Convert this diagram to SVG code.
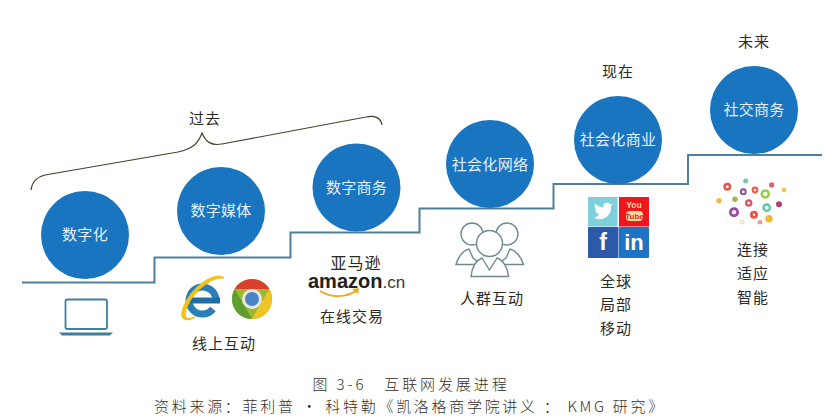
<svg xmlns="http://www.w3.org/2000/svg" width="838" height="418" viewBox="0 0 838 418">
<style>
text{font-family:"Noto Sans CJK SC","Noto Sans",sans-serif;text-anchor:middle;dominant-baseline:central}
.c{fill:#1a75c0}
.w{fill:#e4f1fa;font-size:15px;letter-spacing:.3px}
.l{fill:#2c2a24;font-size:15px;letter-spacing:1px}
.cap{fill:#33302a;font-size:15px;font-weight:300;letter-spacing:2.900px}
.ic{fill:#fff;stroke:#6f8a94;stroke-width:1.400}
.logo{font-family:"Liberation Sans",sans-serif;dominant-baseline:auto;text-anchor:start}
.s{font-family:"Liberation Sans",sans-serif;font-weight:700}
</style>
<rect width="838" height="418" fill="#fff"/>
<g id="connectors" fill="none">
<path d="M22 282.500H154.500V257.500H290.500V232.500H419.500V208.500H553.500V184H688V155H822" stroke="#4f8098" stroke-width="2"/>
<path d="M31 190C32 181 37 177 45 175L178 152C192 149 198 144 202 133C206 142 211 146 222 144L366 117C375 115 381 118 382 125" stroke="#4a3f2c" stroke-width="1.200"/>
</g>
<g id="node-digital"><circle class="c" cx="85" cy="235" r="44"/><text class="w" x="85" y="233.500">数字化</text></g>
<g id="node-media"><circle class="c" cx="221" cy="211" r="44"/><text class="w" x="221" y="209.500">数字媒体</text></g>
<g id="node-commerce"><circle class="c" cx="356.500" cy="187.500" r="44"/><text class="w" x="356.500" y="186">数字商务</text></g>
<g id="node-network"><circle class="c" cx="490" cy="164" r="44"/><text class="w" x="490" y="163">社会化网络</text></g>
<g id="node-social-biz"><circle class="c" cx="618" cy="140" r="44"/><text class="w" x="618" y="138.500">社会化商业</text></g>
<g id="node-social-trade"><circle class="c" cx="754" cy="110" r="44"/><text class="w" x="754" y="108.500">社交商务</text></g>
<g id="labels-time">
<text class="l" x="205" y="117.500">过去</text>
<text class="l" x="618" y="70.500">现在</text>
<text class="l" x="754" y="40.500">未来</text>
</g>
<g id="laptop">
<rect x="65.500" y="299.500" width="41.500" height="29.500" rx="2" fill="#fff" stroke="#3f7f9e" stroke-width="1.800"/>
<path d="M59 332.500H113L110 335.500H62Z" fill="#3f7f9e"/>
</g>
<g id="browser-icons">
<g id="ie">
<path d="M216 300A13.500 13.500 0 1 0 213 309" fill="none" stroke="#2b7fb8" stroke-width="7"/>
<path d="M190 297.500H220V303.500H190Z" fill="#1f6ea6"/>
<path d="M224 278C212 272 192 288 184 306C179 318 184 323 195 317C185 322 182 316 188 304C195 290 212 276 224 278Z" fill="#f2c21a" stroke="#f2c21a" stroke-width="1.500"/>
</g>
<g id="chrome">
<circle cx="252" cy="299" r="20" fill="#9db92c"/>
<path d="M234.700 289A20 20 0 0 1 269.300 289H252Z" fill="#d8402c"/>
<path d="M269.300 289A20 20 0 0 1 252 319L260 305Z" fill="#f0c424"/>
<path d="M252 319A20 20 0 0 1 234.700 289L244 305Z" fill="#5f9e2f"/>
<circle cx="252" cy="299" r="10" fill="#e8e8e0"/>
<circle cx="252" cy="299" r="7" fill="#4a84c4"/>
</g>
</g>
<g id="amazon">
<text class="l" x="356" y="262" style="font-size:16px;letter-spacing:1px">亚马逊</text>
<text class="logo" x="308" y="288" font-size="20" font-weight="700" fill="#23211c">amazon<tspan font-size="17" font-weight="400" fill="#3a3833">.cn</tspan></text>
<path d="M320 291C331 298 347 298 357 290" fill="none" stroke="#eda921" stroke-width="2"/>
<path d="M352 289L359 288L358 294Z" fill="#eda921"/>
</g>
<g id="people">
<circle class="ic" cx="472" cy="234" r="11"/>
<circle class="ic" cx="507" cy="234" r="11"/>
<path class="ic" d="M456 264.500C458 256 464 250 469 249L473 258L482 264.500Z"/>
<path class="ic" d="M523.500 264.500C521 256 515 250 510 249L506 258L497 264.500Z"/>
<path class="ic" d="M471 276.500C472 266 477 260 482 258L489.500 270L497 258C503 260 508 268 508.500 276.500Z"/>
<circle class="ic" cx="489.500" cy="243.500" r="13"/>
</g>
<g id="social-tiles">
<rect x="588" y="197" width="29.500" height="29.500" fill="#7fcfdc"/>
<path d="M594 218C604 222 612 215 611 206L613 204L610.500 204.500C608 201 602 203 603.500 207.500C600 207.500 597 205.500 595 203.500C594 206.500 595 209 597 210.500L595 210C595.500 212 597 213.500 599 214C597.500 216.500 596 217.500 594 218Z" fill="#fff"/>
<rect x="619" y="197" width="30" height="29.500" fill="#f0161d"/>
<text class="s" x="634" y="205" font-size="8.500" fill="#f7dc9e">You</text>
<rect x="626" y="211" width="17" height="10" rx="4" fill="#f7dc9e"/>
<text class="s" x="634.500" y="216" font-size="8" fill="#e8232a">Tube</text>
<rect x="588" y="227" width="30.500" height="31" rx="1" fill="#2c5aa8"/>
<text class="s" x="603" y="242" font-size="23" fill="#fff">f</text>
<rect x="619" y="227" width="30" height="31" rx="1" fill="#1f73c4"/>
<text class="s" x="634" y="242" font-size="22" fill="#fff">in</text>
</g>
<g id="app-dots" fill-opacity=".9">
<circle cx="727.300" cy="186.700" r="4" fill="#d8483a"/><circle cx="745.700" cy="181" r="2.500" fill="#6fbf9a"/><circle cx="771.700" cy="185" r="2.700" fill="#c95a6a"/><circle cx="743.300" cy="191.700" r="3.400" fill="#7a3a8c"/><circle cx="755" cy="190" r="3.400" fill="#e0503a"/><circle cx="765.300" cy="194" r="4.800" fill="#8dc63f"/><circle cx="784" cy="190" r="2.400" fill="#f0c040"/><circle cx="719" cy="200.700" r="2.700" fill="#f0b030"/><circle cx="735" cy="199.300" r="2.700" fill="#9aaa40"/><circle cx="748.700" cy="203" r="3.700" fill="#d04050"/><circle cx="779" cy="204.300" r="3" fill="#a03060"/><circle cx="766.700" cy="207.700" r="4.400" fill="#50c0a0"/><circle cx="734" cy="212.300" r="5" fill="#8a3a9a"/><circle cx="754" cy="214.700" r="4" fill="#e84030"/><circle cx="769" cy="218.700" r="3.700" fill="#f0b020"/><circle cx="742.300" cy="222.300" r="2.300" fill="#ddd8a0"/><circle cx="760" cy="222.300" r="2.300" fill="#e09080"/>
<g fill="#fff"><circle cx="727.300" cy="186.700" r="1.500"/><circle cx="743.300" cy="191.700" r="1.500"/><circle cx="755" cy="190" r="1.300"/><circle cx="765.300" cy="194" r="2.200"/><circle cx="748.700" cy="203" r="1.600"/><circle cx="766.700" cy="207.700" r="2"/><circle cx="734" cy="212.300" r="2.200"/><circle cx="754" cy="214.700" r="1.200"/><circle cx="742.300" cy="222.300" r="1.200"/></g>
</g>
<g id="labels">
<text class="l" x="224" y="342.500">线上互动</text>
<text class="l" x="352" y="315.500">在线交易</text>
<text class="l" x="492" y="297.500">人群互动</text>
<text class="l" x="616" y="280.500">全球</text>
<text class="l" x="616" y="303.500">局部</text>
<text class="l" x="616" y="327.500">移动</text>
<text class="l" x="753" y="248.500">连接</text>
<text class="l" x="753" y="272.500">适应</text>
<text class="l" x="753" y="296.500">智能</text>
</g>
<g id="caption">
<text class="cap" x="411" y="383">图 3-6　互联网发展进程</text>
<text class="cap" x="410" y="405.500" style="letter-spacing:2.700px">资料来源：菲利普 · 科特勒《凯洛格商学院讲义 ： KMG 研究》</text>
</g>
</svg>
